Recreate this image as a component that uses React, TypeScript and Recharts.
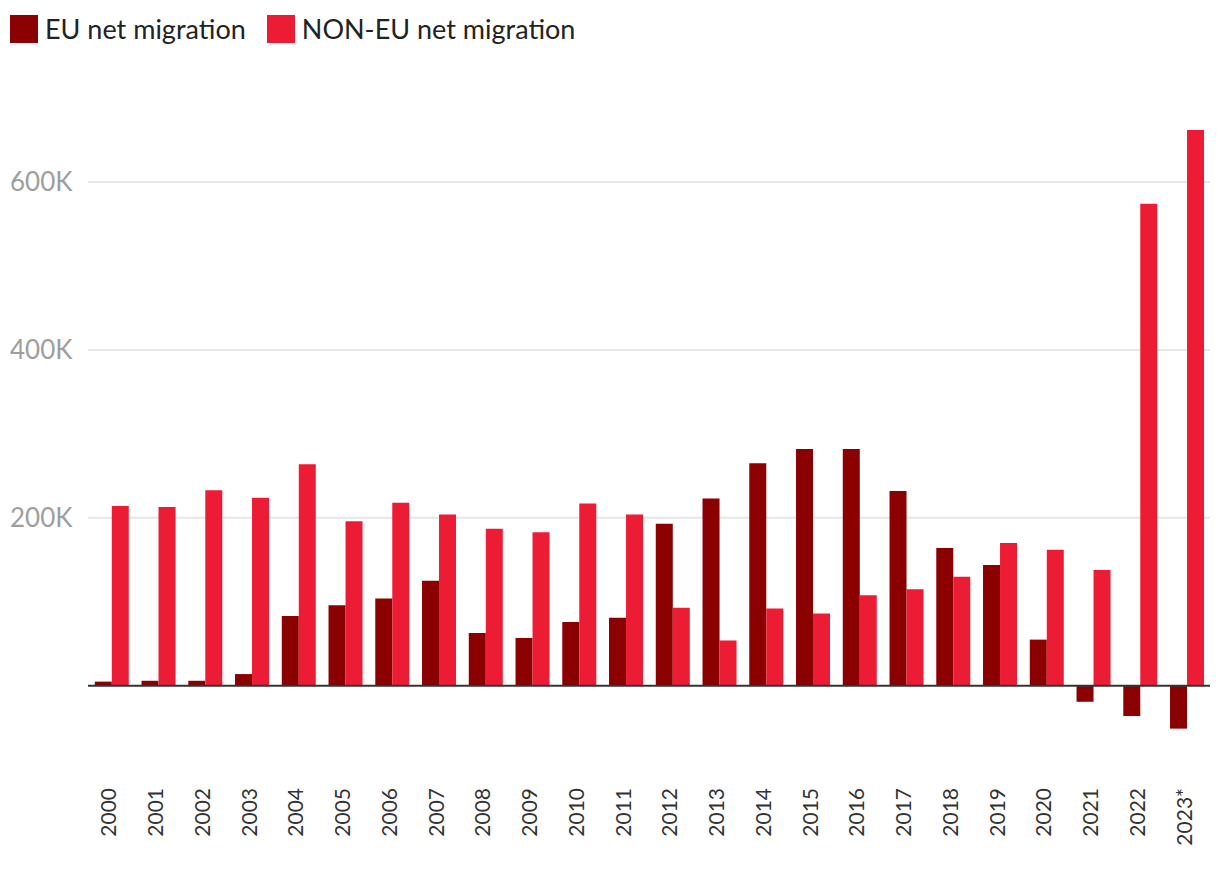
import React from 'react';
import { BarChart, Bar, XAxis, YAxis, CartesianGrid, ReferenceLine } from 'recharts';

const YEARS = ['2000', '2001', '2002', '2003', '2004', '2005', '2006', '2007', '2008', '2009', '2010', '2011',
  '2012', '2013', '2014', '2015', '2016', '2017', '2018', '2019', '2020', '2021', '2022', '2023*'];

const EU_NET = [5000, 6000, 6000, 14000, 83000, 96000, 104000, 125000, 63000, 57000, 76000, 81000,
  193000, 223000, 265000, 282000, 282000, 232000, 164000, 144000, 55000, -19000, -36000, -51000];

const NON_EU_NET = [214000, 213000, 233000, 224000, 264000, 196000, 218000, 204000, 187000, 183000, 217000, 204000,
  93000, 54000, 92000, 86000, 108000, 115000, 130000, 170000, 162000, 138000, 574000, 662000];

const Y_TICKS = [200000, 400000, 600000];

const EU_COLOR = '#8b0000';
const NON_EU_COLOR = '#ec1c34';

const data = YEARS.map((year, i) => ({ year, eu: EU_NET[i], nonEu: NON_EU_NET[i] }));

function YearTick({ x, y, payload }: any) {
  return (
    <g transform={`translate(${x},${y + 27})`}>
      <text
        transform="rotate(-90)"
        textAnchor="end"
        dy="0.24em"
        fill="#333"
        fontSize={21}
        fontFamily="Lato, sans-serif"
      >
        {payload.value}
      </text>
    </g>
  );
}

function ValueTick({ y, payload }: any) {
  return (
    <text x={10} y={y} dy="0.36em" textAnchor="start" fill="#9e9e9e" fontSize={26} fontFamily="Lato, sans-serif">
      {`${payload.value / 1000}K`}
    </text>
  );
}

function LegendItem({ color, label }: { color: string; label: string }) {
  return (
    <div style={{ display: 'flex', alignItems: 'center', marginRight: 21 }}>
      <div style={{ width: 28, height: 28, background: color, marginRight: 7 }} />
      <span style={{ fontSize: 27, color: '#222' }}>{label}</span>
    </div>
  );
}

export default function App() {
  return (
    <div style={{ position: 'relative', width: 1220, height: 878, fontFamily: 'Lato, sans-serif' }}>
      <style>{'body { margin: 0; }'}</style>
      <div style={{ position: 'absolute', left: 10, top: 12, display: 'flex' }}>
        <LegendItem color={EU_COLOR} label="EU net migration" />
        <LegendItem color={NON_EU_COLOR} label="NON-EU net migration" />
      </div>
      <BarChart
        width={1220}
        height={878}
        data={data}
        margin={{ top: 98, right: 10, bottom: 0, left: 0 }}
        barCategoryGap="14.5%"
        barGap={0}
      >
        <CartesianGrid vertical={false} horizontalValues={Y_TICKS} stroke="#e6e6e6" strokeWidth={2} />
        <XAxis
          dataKey="year"
          axisLine={false}
          tickLine={false}
          interval={0}
          height={125}
          tick={<YearTick />}
        />
        <YAxis
          width={88}
          domain={[-80000, 700000]}
          ticks={Y_TICKS}
          axisLine={false}
          tickLine={false}
          tick={<ValueTick />}
        />
        <Bar dataKey="eu" fill={EU_COLOR} isAnimationActive={false} />
        <Bar dataKey="nonEu" fill={NON_EU_COLOR} isAnimationActive={false} />
        <ReferenceLine y={0} stroke="#333" strokeWidth={2} />
      </BarChart>
    </div>
  );
}
